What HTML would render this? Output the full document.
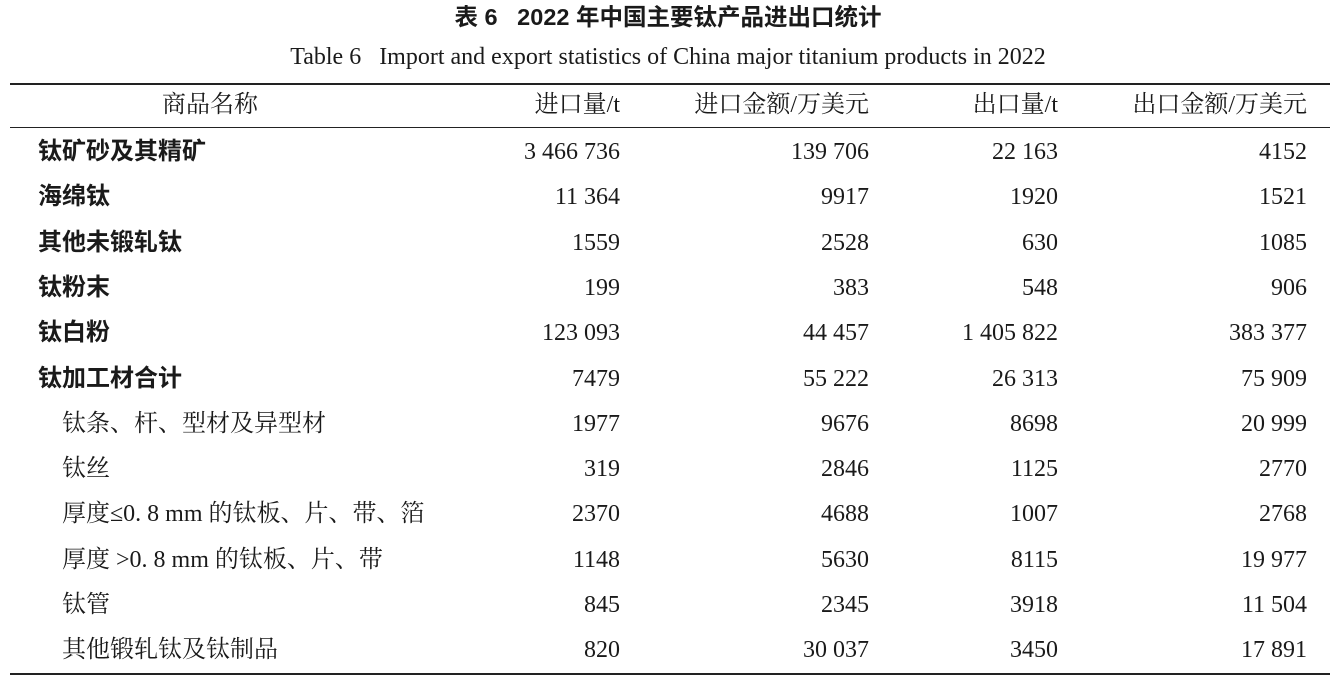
<!DOCTYPE html>
<html><head><meta charset="utf-8"><style>
body{margin:0;width:1336px;height:678px;background:#fff;position:relative;overflow:hidden;font-family:"Liberation Serif","Noto Serif CJK SC",serif;color:#1a1a1a}
.t{position:absolute;white-space:nowrap;line-height:1}
.r{text-align:right}
.rule{position:absolute;left:10px;width:1320px;background:#222}
.n{font-size:24px}
.b{font-family:"Liberation Sans","Noto Sans CJK SC",sans-serif;font-weight:bold;font-size:24px}
</style></head><body>
<div class="t" style="left:0;width:1336px;text-align:center;top:6px;font-size:23.5px;font-family:'Liberation Sans','Noto Sans CJK SC',sans-serif;font-weight:bold">表 6&nbsp;&nbsp;&nbsp;2022 年中国主要钛产品进出口统计</div>
<div class="t" style="left:0;width:1336px;text-align:center;top:45px;font-size:24px">Table 6&nbsp;&nbsp;&nbsp;Import and export statistics of China major titanium products in 2022</div>
<div class="rule" style="top:83px;height:2px"></div>
<div class="rule" style="top:127px;height:1px"></div>
<div class="rule" style="top:673px;height:2px"></div>
<div id="rows"></div>
<script>
var H=[["商品名称",0],["进口量/t",620],["进口金额/万美元",869],["出口量/t",1058],["出口金额/万美元",1307]];
var s='';
s+='<div class="t n" style="left:110px;width:200px;text-align:center;top:93px">商品名称</div>';
for(var i=1;i<5;i++)s+='<div class="t n r" style="left:'+(H[i][1]-300)+'px;width:300px;top:93px">'+H[i][0]+'</div>';
var D=[["钛矿砂及其精矿","3 466 736","139 706","22 163","4152",1],["海绵钛","11 364","9917","1920","1521",1],["其他未锻轧钛","1559","2528","630","1085",1],["钛粉末","199","383","548","906",1],["钛白粉","123 093","44 457","1 405 822","383 377",1],["钛加工材合计","7479","55 222","26 313","75 909",1],["钛条、杆、型材及异型材","1977","9676","8698","20 999",0],["钛丝","319","2846","1125","2770",0],["厚度≤0. 8 mm 的钛板、片、带、箔","2370","4688","1007","2768",0],["厚度 &gt;0. 8 mm 的钛板、片、带","1148","5630","8115","19 977",0],["钛管","845","2345","3918","11 504",0],["其他锻轧钛及钛制品","820","30 037","3450","17 891",0]];
for(var r=0;r<D.length;r++){var y=140+r*45.3;var d=D[r];
s+='<div class="t '+(d[5]?'b':'n')+'" style="left:'+(d[5]?38:62)+'px;top:'+y+'px">'+d[0]+'</div>';
for(var i=1;i<5;i++)s+='<div class="t n r" style="left:'+(H[i][1]-300)+'px;width:300px;top:'+y+'px">'+d[i]+'</div>';}
document.getElementById('rows').innerHTML=s;
</script>
</body></html>
